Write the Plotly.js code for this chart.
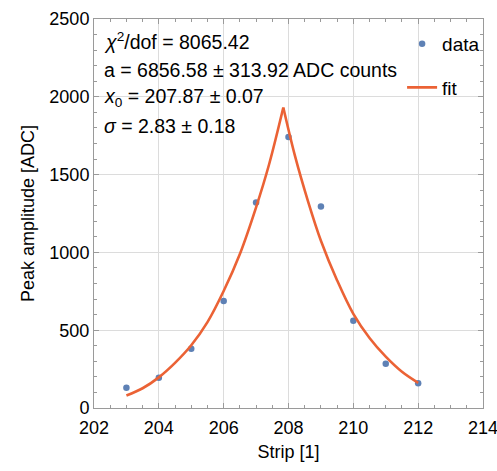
<!DOCTYPE html>
<html>
<head>
<meta charset="utf-8">
<script src="https://cdn.plot.ly/plotly-3.0.1.min.js"></script>
<style>body{margin:0;background:#fff}#plot{width:497px;height:471px}</style>
</head>
<body>
<div id="plot"></div>
<script>
// Data points
var strips = [203, 204, 205, 206, 207, 208, 209, 210, 211, 212];
var amplitudes = [130, 195, 381, 687, 1320, 1742, 1295, 561, 284, 159];

// Fit curve (left branch and right branch share the peak)
var fitLeftX = [203.0, 203.5, 204.0, 204.5, 205.0, 205.5, 206.0, 206.5, 207.0, 207.4, 207.84];
var fitLeftY = [80, 127, 197, 290, 403, 552, 752, 990, 1290, 1565, 1931];
var fitRightX = [207.84, 208.2, 208.6, 209.0, 209.5, 210.0, 210.5, 211.0, 211.5, 212.0];
var fitRightY = [1931, 1620, 1330, 1075, 820, 605, 450, 330, 233, 162];

var xTicks = [202, 204, 206, 208, 210, 212, 214];
var yTicks = [0, 500, 1000, 1500, 2000, 2500];

var statLines = [
  '<i>χ</i><sup>2</sup>/dof = 8065.42',
  'a = 6856.58 ± 313.92 ADC counts',
  '<i>x</i><sub>0</sub> = 207.87 ± 0.07',
  '<i>σ</i> = 2.83 ± 0.18'
];

var blue = '#5E81B5';
var orange = '#EB6235';
var font = 'Liberation Sans, Arial, sans-serif';

var traces = [
  {x: strips, y: amplitudes, mode: 'markers', name: 'data', legendgroup: 'data',
   marker: {color: blue, size: 6.5}},
  {x: fitLeftX, y: fitLeftY, mode: 'lines', name: 'fit', legendgroup: 'fit',
   line: {color: orange, width: 2.6, shape: 'spline', smoothing: 1}, showlegend: true},
  {x: fitRightX, y: fitRightY, mode: 'lines', name: 'fit', legendgroup: 'fit',
   line: {color: orange, width: 2.6, shape: 'spline', smoothing: 1}, showlegend: false}
];

var axisCommon = {
  showline: true, linecolor: '#9a9a9a', linewidth: 1, mirror: 'ticks',
  ticks: 'inside', ticklen: 5, tickcolor: '#9a9a9a', tickwidth: 1,
  showgrid: true, gridcolor: '#dcdcdc', gridwidth: 1, zeroline: false,
  ticklabeloverflow: 'allow', automargin: false,
  tickfont: {family: font, size: 18, color: '#000'}
};

var annotations = statLines.map(function(t, i){
  return {xref: 'paper', yref: 'paper', x: 0.021, y: 1 - (22.5 + i*28)/389,
          xanchor: 'left', yanchor: 'middle', showarrow: false, text: t,
          font: {family: font, size: 19.5, color: '#000'}};
});

var layout = {
  width: 497, height: 471,
  margin: {l: 94, r: 12, t: 19, b: 63},
  paper_bgcolor: '#fff', plot_bgcolor: '#fff',
  showlegend: true,
  legend: {x: 0.792, y: 0.985, xanchor: 'left', yanchor: 'top', bgcolor: 'rgba(0,0,0,0)',
           traceorder: 'grouped', tracegroupgap: 16, itemwidth: 30,
           font: {family: font, size: 19, color: '#000'}},
  xaxis: Object.assign({}, axisCommon, {
    range: [202, 214], tickvals: xTicks, ticklabelstandoff: 3,
    minor: {dtick: 0.5, ticks: 'inside', ticklen: 3, tickcolor: '#9a9a9a', showgrid: false},
    title: {text: 'Strip [1]', font: {family: font, size: 18, color: '#000'}, standoff: 8}
  }),
  yaxis: Object.assign({}, axisCommon, {
    range: [0, 2500], tickvals: yTicks,
    minor: {dtick: 100, ticks: 'inside', ticklen: 3, tickcolor: '#9a9a9a', showgrid: false},
    title: {text: 'Peak amplitude [ADC]', font: {family: font, size: 18, color: '#000'}, standoff: 10}
  }),
  annotations: annotations
};

Plotly.newPlot('plot', traces, layout, {displayModeBar: false, staticPlot: true});
</script>
</body>
</html>
